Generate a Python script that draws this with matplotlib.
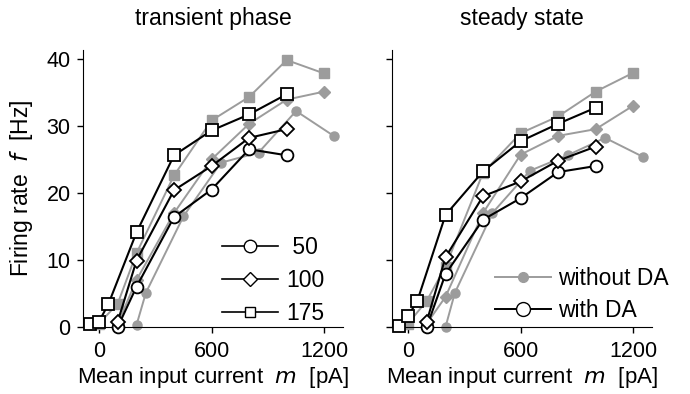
import matplotlib
matplotlib.use("Agg")
import matplotlib.pyplot as plt
from matplotlib.lines import Line2D

plt.rcParams['font.family'] = ['Liberation Sans', 'DejaVu Sans']
plt.rcParams['font.size'] = 14

GRAY = '#9c9c9c'

# transient phase, with DA (black, open markers)
tr_sq_x = [-50, 0, 50, 200, 400, 600, 800, 1000]
tr_sq_y = [0.4, 0.8, 3.4, 14.1, 25.6, 29.3, 31.7, 34.7]
tr_di_x = [100, 200, 400, 600, 800, 1000]
tr_di_y = [0.8, 9.9, 20.4, 24.0, 28.2, 29.5]
tr_ci_x = [100, 200, 400, 600, 800, 1000]
tr_ci_y = [0.0, 6.0, 16.4, 20.5, 26.5, 25.6]

# transient phase, without DA (gray, filled)
tr_gci_x = [200, 250, 450, 650, 850, 1050, 1250]
tr_gci_y = [0.3, 5.1, 16.5, 24.5, 26.0, 32.2, 28.5]
tr_gsq_x = [0, 100, 200, 400, 600, 800, 1000, 1200]
tr_gsq_y = [0.5, 3.5, 11.0, 22.6, 30.8, 34.3, 39.8, 37.8]
tr_gdi_x = [100, 200, 400, 600, 800, 1000, 1200]
tr_gdi_y = [0.5, 7.0, 17.0, 25.0, 30.3, 33.9, 35.1]

# steady state, with DA
ss_sq_x = [-50, 0, 50, 200, 400, 600, 800, 1000]
ss_sq_y = [0.1, 1.6, 3.9, 16.7, 23.2, 27.7, 30.3, 32.7]
ss_di_x = [100, 200, 400, 600, 800, 1000]
ss_di_y = [0.8, 10.4, 19.5, 21.7, 24.8, 26.9]
ss_ci_x = [100, 200, 400, 600, 800, 1000]
ss_ci_y = [0.0, 7.9, 16.0, 19.2, 23.1, 24.0]

# steady state, without DA
ss_gci_x = [200, 250, 450, 650, 850, 1050, 1250]
ss_gci_y = [0.0, 5.1, 17.0, 23.3, 25.6, 28.2, 25.4]
ss_gsq_x = [0, 100, 200, 400, 600, 800, 1000, 1200]
ss_gsq_y = [0.5, 3.9, 9.0, 23.0, 28.9, 31.4, 35.1, 37.9]
ss_gdi_x = [100, 200, 400, 600, 800, 1000, 1200]
ss_gdi_y = [0.5, 4.5, 17.0, 25.7, 28.5, 29.5, 33.0]

x_ticks = [0, 600, 1200]
y_ticks = [0, 10, 20, 30, 40]


def draw_panel(ax, gray_sets, black_sets, title):
    for x, y, m in gray_sets:
        ax.plot(x, y, color=GRAY, lw=1.4, marker=m, ms=6.5, mfc=GRAY,
                mec=GRAY, clip_on=False, zorder=2)
    for x, y, m in black_sets:
        ms = {'o': 8.5, 'D': 7, 's': 8}[m]
        ax.plot(x, y, color='black', lw=1.5, marker=m, ms=ms, mfc='white',
                mec='black', mew=1.3, clip_on=False, zorder=3)
    ax.set_xlim(-85, 1300)
    ax.set_ylim(0, 41.3)
    ax.set_xticks(x_ticks)
    ax.set_yticks(y_ticks)
    ax.spines['top'].set_visible(False)
    ax.spines['right'].set_visible(False)
    ax.tick_params(direction='out', length=4, width=1, labelsize=15.5)
    ax.tick_params(axis='x', pad=6)
    ax.tick_params(axis='y', pad=5)
    ax.set_title(title, fontsize=16.5, pad=18)
    ax.set_xlabel('Mean input current  $m$  [pA]', fontsize=16, labelpad=2)


fig = plt.figure(figsize=(6.9, 3.94), dpi=100)
ax1 = fig.add_axes([83 / 690, 1 - 327 / 394, 260 / 690, 277 / 394])
ax2 = fig.add_axes([392 / 690, 1 - 327 / 394, 260 / 690, 277 / 394])

draw_panel(ax1,
           [(tr_gci_x, tr_gci_y, 'o'), (tr_gdi_x, tr_gdi_y, 'D'), (tr_gsq_x, tr_gsq_y, 's')],
           [(tr_ci_x, tr_ci_y, 'o'), (tr_di_x, tr_di_y, 'D'), (tr_sq_x, tr_sq_y, 's')],
           'transient phase')
draw_panel(ax2,
           [(ss_gci_x, ss_gci_y, 'o'), (ss_gdi_x, ss_gdi_y, 'D'), (ss_gsq_x, ss_gsq_y, 's')],
           [(ss_ci_x, ss_ci_y, 'o'), (ss_di_x, ss_di_y, 'D'), (ss_sq_x, ss_sq_y, 's')],
           'steady state')

ax1.set_ylabel('Firing rate  $f$  [Hz]', fontsize=16.5, labelpad=8)
ax2.set_yticklabels([])

h1 = [Line2D([], [], color='black', lw=1.2, marker='o', ms=9, mfc='white', mec='black'),
      Line2D([], [], color='black', lw=1.2, marker='D', ms=7, mfc='white', mec='black'),
      Line2D([], [], color='black', lw=1.2, marker='s', ms=7, mfc='white', mec='black')]
ax1.legend(h1, [' 50', '100', '175'], loc='upper left', bbox_to_anchor=(0.535, 0.33),
           frameon=False, handlelength=2.45, handletextpad=0.35, labelspacing=0.45,
           fontsize=16.5, borderaxespad=0, borderpad=0)

h2 = [Line2D([], [], color=GRAY, lw=1.4, marker='o', ms=7, mfc=GRAY, mec=GRAY),
      Line2D([], [], color='black', lw=1.4, marker='o', ms=10, mfc='white', mec='black')]
ax2.legend(h2, ['without DA', 'with DA'], loc='upper left', bbox_to_anchor=(0.396, 0.215),
           frameon=False, handlelength=2.45, handletextpad=0.3, labelspacing=0.38,
           fontsize=16.5, borderaxespad=0, borderpad=0)

fig.savefig('out.png', dpi=100)
